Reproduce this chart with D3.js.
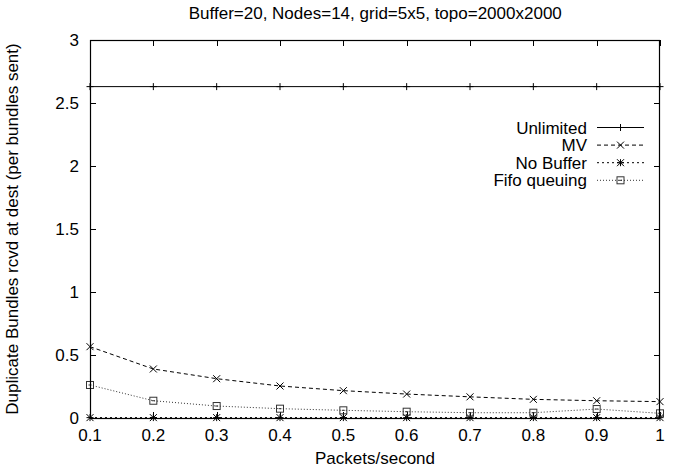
<!DOCTYPE html>
<html><head><meta charset="utf-8">
<script src="https://cdn.jsdelivr.net/npm/d3@7/dist/d3.min.js"></script>
<style>body{margin:0;background:#fff}svg{display:block}text{font-family:"Liberation Sans",Arial,sans-serif;fill:#000}</style>
</head><body><svg id="c" width="678" height="472"></svg>
<script>
const xValues = [0.1,0.2,0.3,0.4,0.5,0.6,0.7,0.8,0.9,1.0];
const unlimited = [2.63,2.63,2.63,2.63,2.63,2.63,2.63,2.63,2.63,2.63];
const mv = [0.566,0.389,0.312,0.254,0.217,0.19,0.168,0.148,0.137,0.13];
const noBuffer = [0.003,0.003,0.003,0.003,0.003,0.003,0.003,0.003,0.003,0.003];
const fifo = [0.262,0.137,0.095,0.074,0.061,0.05,0.042,0.042,0.071,0.037];
const xTicks = [0.1,0.2,0.3,0.4,0.5,0.6,0.7,0.8,0.9,1];
const yTicks = [0,0.5,1,1.5,2,2.5,3];
const seriesNames = ["Unlimited","MV","No Buffer","Fifo queuing"];
const title = "Buffer=20, Nodes=14, grid=5x5, topo=2000x2000";

const svg = d3.select("#c");
const L=90,R=660,T=40,B=418;
const x = d3.scaleLinear().domain([0.1,1]).range([L,R]);
const y = d3.scaleLinear().domain([0,3]).range([B,T]);

const series = [
  {name:seriesNames[0], vals:unlimited, dash:null, color:"#000", marker:"plus"},
  {name:seriesNames[1], vals:mv, dash:"4,3", color:"#000", marker:"x"},
  {name:seriesNames[2], vals:noBuffer, dash:"2,3", color:"#000", marker:"star"},
  {name:seriesNames[3], vals:fifo, dash:"1,2", color:"#333", marker:"square"}
];

function marker(g, type, cx, cy, color){
  const s=3.5;
  if(type==="plus"||type==="star"){
    g.append("line").attr("x1",cx-s).attr("x2",cx+s).attr("y1",cy).attr("y2",cy).attr("stroke",color);
    g.append("line").attr("x1",cx).attr("x2",cx).attr("y1",cy-s).attr("y2",cy+s).attr("stroke",color);
  }
  if(type==="x"||type==="star"){
    g.append("line").attr("x1",cx-s).attr("x2",cx+s).attr("y1",cy-s).attr("y2",cy+s).attr("stroke",color);
    g.append("line").attr("x1",cx-s).attr("x2",cx+s).attr("y1",cy+s).attr("y2",cy-s).attr("stroke",color);
  }
  if(type==="square"){
    g.append("rect").attr("x",cx-3.5).attr("y",cy-3.5).attr("width",7).attr("height",7).attr("fill","none").attr("stroke",color);
    g.append("line").attr("x1",cx-1.5).attr("x2",cx+1.5).attr("y1",cy).attr("y2",cy).attr("stroke",color);
  }
}

// ticks (inward, mirrored)
const tg = svg.append("g").attr("stroke","#000").attr("stroke-width",1);
xTicks.forEach(v=>{
  const px=Math.round(x(v))+0.5;
  tg.append("line").attr("x1",px).attr("x2",px).attr("y1",B).attr("y2",B-6);
  tg.append("line").attr("x1",px).attr("x2",px).attr("y1",T).attr("y2",T+6);
});
yTicks.forEach(v=>{
  const py=Math.round(y(v))+0.5;
  tg.append("line").attr("x1",L).attr("x2",L+6).attr("y1",py).attr("y2",py);
  tg.append("line").attr("x1",R).attr("x2",R-6).attr("y1",py).attr("y2",py);
});

// tick labels
xTicks.forEach(v=>{
  svg.append("text").attr("x",x(v)).attr("y",441).attr("text-anchor","middle").attr("font-size",17).text(String(v));
});
yTicks.forEach(v=>{
  svg.append("text").attr("x",79).attr("y",y(v)+6).attr("text-anchor","end").attr("font-size",17).text(String(v));
});

// data
const line = d3.line().x((d,i)=>x(xValues[i])).y(d=>y(d));
series.forEach(s=>{
  svg.append("path").attr("d",line(s.vals)).attr("fill","none").attr("stroke",s.color).attr("stroke-width",1)
    .attr("stroke-dasharray",s.dash);
  const g=svg.append("g");
  s.vals.forEach((v,i)=>marker(g,s.marker,x(xValues[i]),y(v),s.color));
});

// border
svg.append("rect").attr("x",L+0.5).attr("y",T+0.5).attr("width",R-L-1).attr("height",B-T).attr("fill","none").attr("stroke","#000").attr("stroke-width",1.2);

// legend
series.forEach((s,i)=>{
  const ly=127.5+i*17.6;
  svg.append("text").attr("x",587).attr("y",ly+6).attr("text-anchor","end").attr("font-size",17).text(s.name);
  svg.append("line").attr("x1",597).attr("x2",644).attr("y1",ly).attr("y2",ly).attr("stroke",s.color).attr("stroke-dasharray",s.dash);
  marker(svg.append("g"),s.marker,620.5,ly,s.color);
});

// titles
svg.append("text").attr("x",375.3).attr("y",19).attr("text-anchor","middle").attr("font-size",17).text(title);
svg.append("text").attr("x",375).attr("y",464).attr("text-anchor","middle").attr("font-size",17).text("Packets/second");
svg.append("text").attr("transform","translate(18,229) rotate(-90)").attr("text-anchor","middle").attr("font-size",17).text("Duplicate Bundles rcvd at dest (per bundles sent)");
</script></body></html>
